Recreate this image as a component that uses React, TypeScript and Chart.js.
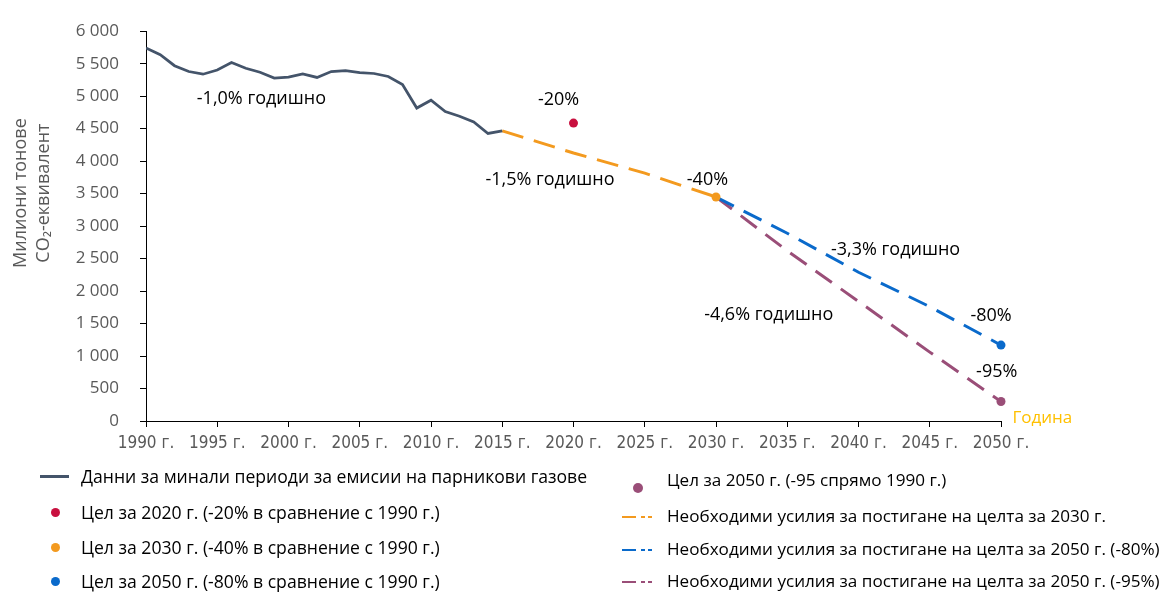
import React, { useEffect, useRef } from 'react';
import { Chart, registerables } from 'chart.js';

Chart.register(...registerables);

const FONT = "'Open Sans', Lato, 'Noto Sans', sans-serif";
const NARROW = "'Liberation Sans Narrow', 'Arial Narrow', 'DejaVu Sans Condensed', sans-serif";

// Historical emissions (million tonnes CO2-eq)
const histYears = [1990, 1991, 1992, 1993, 1994, 1995, 1996, 1997, 1998, 1999, 2000, 2001, 2002, 2003, 2004, 2005, 2006, 2007, 2008, 2009, 2010, 2011, 2012, 2013, 2014, 2015];
const histValues = [5740, 5639, 5469, 5379, 5338, 5403, 5519, 5429, 5368, 5278, 5293, 5343, 5288, 5379, 5394, 5364, 5349, 5303, 5178, 4817, 4937, 4762, 4692, 4602, 4426, 4466];

// Required paths
const path2030Years = [2015, 2020, 2025, 2030];
const path2030Values = [4466, 4125, 3815, 3448];
const path80Years = [2030, 2035, 2040, 2045, 2050];
const path80Values = [3448, 2890, 2290, 1760, 1168];
const path95Years = [2030, 2035, 2040, 2045, 2050];
const path95Values = [3448, 2620, 1840, 1060, 300];

// Targets
const target2020 = { year: 2020, value: 4586 };
const target2030 = { year: 2030, value: 3448 };
const target2050a = { year: 2050, value: 1168 };
const target2050b = { year: 2050, value: 300 };

const yTitleLines = ['Милиони тонове', 'CO₂-еквивалент'];
const xUnit = ' г.';

const annotations = [
  { x: 1998.1, y: 4960, text: '-1,0% годишно', color: '#000' },
  { x: 2018.95, y: 4940, text: '-20%', color: '#000' },
  { x: 2018.35, y: 3710, text: '-1,5% годишно', color: '#000' },
  { x: 2029.4, y: 3710, text: '-40%', color: '#000' },
  { x: 2042.6, y: 2640, text: '-3,3% годишно', color: '#000' },
  { x: 2033.7, y: 1640, text: '-4,6% годишно', color: '#000' },
  { x: 2049.3, y: 1620, text: '-80%', color: '#000' },
  { x: 2049.7, y: 755, text: '-95%', color: '#000' },
];
const axisNote = { x: 2052.9, y: 45, text: 'Година', color: '#FFC000' };

const pts = (xs: number[], ys: number[]) => xs.map((x, i) => ({ x, y: ys[i] }));
const fmt = (v: number) => String(v).replace(/\B(?=(\d{3})+(?!\d))/g, ' ');

const textPlugin = {
  id: 'texts',
  afterDraw(chart: any) {
    const ctx = chart.ctx;
    const xs = chart.scales.x;
    const ys = chart.scales.y;
    ctx.save();
    ctx.textAlign = 'center';
    ctx.textBaseline = 'middle';
    ctx.font = `18px ${FONT}`;
    for (const a of annotations) {
      ctx.fillStyle = a.color;
      ctx.fillText(a.text, xs.getPixelForValue(a.x), ys.getPixelForValue(a.y));
    }
    ctx.font = `17px ${FONT}`;
    ctx.fillStyle = axisNote.color;
    ctx.fillText(axisNote.text, xs.getPixelForValue(axisNote.x), ys.getPixelForValue(axisNote.y));
    // y-axis title
    ctx.fillStyle = '#595959';
    ctx.font = `18px ${FONT}`;
    const cy = (chart.chartArea.top + chart.chartArea.bottom) / 2 - 33;
    yTitleLines.forEach((line, i) => {
      ctx.save();
      ctx.translate(21 + i * 23, cy);
      ctx.rotate(-Math.PI / 2);
      ctx.fillText(line, 0, 0);
      ctx.restore();
    });
    ctx.restore();
  },
};

function ChartCanvas() {
  const ref = useRef<HTMLCanvasElement | null>(null);
  useEffect(() => {
    if (!ref.current) return;
    const pointDs = (p: { year: number; value: number }, color: string, r: number) => ({
      type: 'scatter' as const,
      data: [{ x: p.year, y: p.value }],
      backgroundColor: color,
      borderColor: color,
      borderWidth: 0,
      pointRadius: r,
      showLine: false,
      clip: false,
    });
    const chart = new Chart(ref.current, {
      type: 'line',
      data: {
        datasets: [
          pointDs(target2020, '#C8103F', 4.5),
          pointDs(target2030, '#F39A1F', 4.5),
          pointDs(target2050a, '#0A6ACB', 4.5),
          pointDs(target2050b, '#9A4E78', 4.5),
          { data: pts(histYears, histValues), borderColor: '#44546A', borderWidth: 2.75, pointRadius: 0, tension: 0 },
          { data: pts(path2030Years, path2030Values), borderColor: '#F39A1F', borderWidth: 3, borderDash: [22, 11], pointRadius: 0 },
          { data: pts(path80Years, path80Values), borderColor: '#0A6ACB', borderWidth: 3, borderDash: [20, 11], pointRadius: 0 },
          { data: pts(path95Years, path95Values), borderColor: '#9A4E78', borderWidth: 3, borderDash: [20, 11], pointRadius: 0 },
        ] as any,
      },
      options: {
        animation: false,
        responsive: false,
        layout: { padding: { left: 0, top: 22, right: 169, bottom: 131 } },
        plugins: { legend: { display: false }, tooltip: { enabled: false } },
        scales: {
          x: {
            type: 'linear',
            min: 1990,
            max: 2050,
            ticks: {
              stepSize: 5,
              callback: (v: any) => v + xUnit,
              color: '#595959',
              font: { family: NARROW, size: 17 },
              padding: 6,
              maxRotation: 0,
              autoSkip: false,
            },
            grid: { drawOnChartArea: false, drawTicks: true, tickLength: 6, color: '#000' },
            border: { color: '#000', width: 1 },
            afterFit: (s: any) => { s.height = 40; },
          },
          y: {
            min: 0,
            max: 6000,
            ticks: {
              stepSize: 500,
              callback: (v: any) => fmt(v),
              color: '#595959',
              font: { family: FONT, size: 17 },
              padding: 21,
            },
            grid: { drawOnChartArea: false, drawTicks: true, tickLength: 6, color: '#000' },
            border: { color: '#000', width: 1 },
            afterFit: (s: any) => { s.width = 146; },
          },
        },
      } as any,
      plugins: [textPlugin],
    });
    return () => chart.destroy();
  }, []);
  return <canvas ref={ref} width={1170} height={592} style={{ position: 'absolute', left: 0, top: 0 }} />;
}

const legendLeft = [
  { kind: 'line', color: '#44546A', text: 'Данни за минали периоди за емисии на парникови газове', y: 476 },
  { kind: 'dot', color: '#C8103F', text: 'Цел за 2020 г. (-20% в сравнение с 1990 г.)', y: 512 },
  { kind: 'dot', color: '#F39A1F', text: 'Цел за 2030 г. (-40% в сравнение с 1990 г.)', y: 547 },
  { kind: 'dot', color: '#0A6ACB', text: 'Цел за 2050 г. (-80% в сравнение с 1990 г.)', y: 581 },
];
const legendRight = [
  { kind: 'bigdot', color: '#9A4E78', text: 'Цел за 2050 г. (-95 спрямо 1990 г.)', y: 480 },
  { kind: 'dash', color: '#F39A1F', text: 'Необходими усилия за постигане на целта за 2030 г.', y: 516 },
  { kind: 'dash', color: '#0A6ACB', text: 'Необходими усилия за постигане на целта за 2050 г. (-80%)', y: 549 },
  { kind: 'dash', color: '#9A4E78', text: 'Необходими усилия за постигане на целта за 2050 г. (-95%)', y: 581 },
];

function Marker({ kind, color, cx, y }: { kind: string; color: string; cx: number; y: number }) {
  if (kind === 'line') {
    return <div style={{ position: 'absolute', left: cx - 15, top: y - 1, width: 29, height: 2.5, background: color }} />;
  }
  if (kind === 'dot') {
    return <div style={{ position: 'absolute', left: cx - 4.5, top: y - 4, width: 9, height: 9, borderRadius: '50%', background: color }} />;
  }
  if (kind === 'bigdot') {
    return <div style={{ position: 'absolute', left: cx - 5, top: y + 3, width: 10, height: 10, borderRadius: '50%', background: color }} />;
  }
  return (
    <svg style={{ position: 'absolute', left: cx - 16, top: y - 3 }} width={32} height={8}>
      <line x1={0} y1={4} x2={14} y2={4} stroke={color} strokeWidth={2} />
      <line x1={19} y1={4} x2={32} y2={4} stroke={color} strokeWidth={2} strokeDasharray="4 3" />
    </svg>
  );
}

const legendText = (y: number, left: number, size: number): React.CSSProperties => ({
  position: 'absolute', left, top: y - 12, font: `${size}px ${FONT}`, color: '#000', whiteSpace: 'nowrap', lineHeight: '24px',
});

export default function App() {
  return (
    <div style={{ position: 'fixed', left: 0, top: 0, width: 1170, height: 592, background: '#fff', overflow: 'hidden' }}>
      <ChartCanvas />
      {legendLeft.map((l, i) => (
        <React.Fragment key={'l' + i}>
          <Marker kind={l.kind} color={l.color} cx={55} y={l.y} />
          <div style={legendText(l.y, 81, 17.6)}>{l.text}</div>
        </React.Fragment>
      ))}
      {legendRight.map((l, i) => (
        <React.Fragment key={'r' + i}>
          <Marker kind={l.kind} color={l.color} cx={638} y={l.y} />
          <div style={legendText(l.y, 667, 17.1)}>{l.text}</div>
        </React.Fragment>
      ))}
    </div>
  );
}
